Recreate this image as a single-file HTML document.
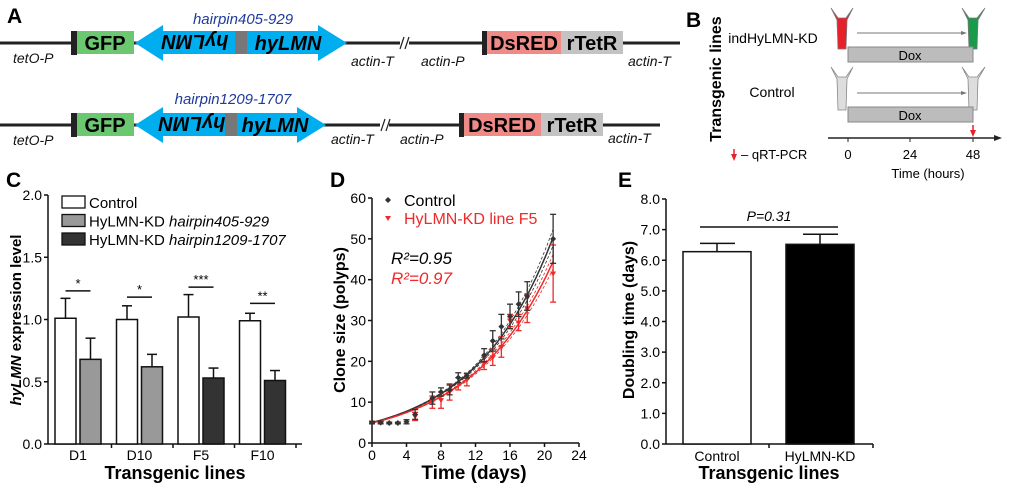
<!DOCTYPE html>
<html><head><meta charset="utf-8"><style>
body{margin:0;background:#fff}
svg{display:block;font-family:"Liberation Sans",Arial,sans-serif}
</style></head><body>
<svg id="fig" width="1020" height="488" viewBox="0 0 1020 488" xmlns="http://www.w3.org/2000/svg">
<g>
<text x="7" y="23" font-size="21" font-weight="bold">A</text>
<g>
<line x1="0" y1="43" x2="400" y2="43" stroke="#222" stroke-width="3"/>
<line x1="409" y1="43" x2="484" y2="43" stroke="#222" stroke-width="3"/>
<line x1="400" y1="49" x2="404" y2="37" stroke="#222" stroke-width="1.2"/>
<line x1="405" y1="49" x2="409" y2="37" stroke="#222" stroke-width="1.2"/>
<line x1="620" y1="43" x2="680" y2="43" stroke="#222" stroke-width="3"/>
<rect x="71" y="31" width="6" height="24" fill="#222"/>
<rect x="77" y="31" width="57" height="23" fill="#6cc870"/>
<text x="105" y="50" font-size="20" font-weight="bold" text-anchor="middle">GFP</text>
<polygon points="135,43 163,25 163,31 318,31 318,25 347,43 318,61 318,54 163,54 163,61" fill="#00aeef"/>
<rect x="235" y="31" width="12" height="23" fill="#777"/>
<text x="195" y="50" font-size="20" font-weight="bold" font-style="italic" text-anchor="middle" transform="rotate(180 195 42.5)">hyLMN</text>
<text x="288" y="50" font-size="20" font-weight="bold" font-style="italic" text-anchor="middle">hyLMN</text>
<text x="243" y="24" font-size="15" font-style="italic" fill="#1f3a9c" text-anchor="middle">hairpin405-929</text>
<rect x="482" y="31" width="5" height="24" fill="#222"/>
<rect x="487" y="31" width="74" height="23" fill="#ef8a86"/>
<text x="524" y="50" font-size="20" font-weight="bold" text-anchor="middle">DsRED</text>
<rect x="561" y="31" width="62" height="23" fill="#c3c3c3"/>
<text x="592" y="50" font-size="20" font-weight="bold" text-anchor="middle">rTetR</text>
<g font-size="14" font-style="italic" fill="#111">
<text x="13" y="63">tetO-P</text>
<text x="351" y="66">actin-T</text>
<text x="421" y="66">actin-P</text>
<text x="628" y="66">actin-T</text>
</g>
</g>
<g>
<line x1="0" y1="125" x2="380" y2="125" stroke="#222" stroke-width="3"/>
<line x1="389" y1="125" x2="460" y2="125" stroke="#222" stroke-width="3"/>
<line x1="381" y1="131" x2="385" y2="119" stroke="#222" stroke-width="1.2"/>
<line x1="386" y1="131" x2="390" y2="119" stroke="#222" stroke-width="1.2"/>
<line x1="600" y1="125" x2="660" y2="125" stroke="#222" stroke-width="3"/>
<rect x="71" y="113" width="6" height="24" fill="#222"/>
<rect x="77" y="113" width="57" height="23" fill="#6cc870"/>
<text x="105" y="132" font-size="20" font-weight="bold" text-anchor="middle">GFP</text>
<polygon points="135,125 163,107 163,113 297,113 297,107 326,125 297,143 297,136 163,136 163,143" fill="#00aeef"/>
<rect x="225" y="113" width="12" height="23" fill="#777"/>
<text x="192" y="132" font-size="20" font-weight="bold" font-style="italic" text-anchor="middle" transform="rotate(180 192 124.5)">hyLMN</text>
<text x="275" y="132" font-size="20" font-weight="bold" font-style="italic" text-anchor="middle">hyLMN</text>
<text x="233" y="104" font-size="15" font-style="italic" fill="#1f3a9c" text-anchor="middle">hairpin1209-1707</text>
<rect x="459" y="113" width="5" height="24" fill="#222"/>
<rect x="464" y="113" width="77" height="23" fill="#ef8a86"/>
<text x="502" y="132" font-size="20" font-weight="bold" text-anchor="middle">DsRED</text>
<rect x="541" y="113" width="62" height="23" fill="#c3c3c3"/>
<text x="572" y="132" font-size="20" font-weight="bold" text-anchor="middle">rTetR</text>
<g font-size="14" font-style="italic" fill="#111">
<text x="13" y="145">tetO-P</text>
<text x="331" y="144">actin-T</text>
<text x="400" y="144">actin-P</text>
<text x="608" y="143">actin-T</text>
</g>
</g>
</g>
<g>
<text x="686" y="27" font-size="21" font-weight="bold">B</text>
<text transform="translate(721 79) rotate(-90)" font-size="16" font-weight="bold" text-anchor="middle">Transgenic lines</text>
<text x="773" y="43" font-size="14" text-anchor="middle">indHyLMN-KD</text>
<text x="772" y="97" font-size="14" text-anchor="middle">Control</text>
<g><path d="M831,8 L838,18 L846,18 L853,8 L847,20 L846,49 L838,49 L837,20 Z" fill="#e8202a" stroke="#777" stroke-width="0.8"/></g>
<g><path d="M962,8 L969,18 L977,18 L985,8 L978,20 L977,49 L969,49 L968,20 Z" fill="#1a9b4a" stroke="#777" stroke-width="0.8"/></g>
<g><path d="M831,67 L838,77 L846,77 L853,67 L847,79 L846,110 L838,110 L837,79 Z" fill="#ddd" stroke="#888" stroke-width="0.8"/></g>
<g><path d="M962,67 L969,77 L977,77 L985,67 L978,79 L977,110 L969,110 L968,79 Z" fill="#ddd" stroke="#888" stroke-width="0.8"/></g>
<line x1="857" y1="33" x2="965" y2="33" stroke="#777" stroke-width="1"/><polygon points="967,33 961,31 961,35" fill="#777"/>
<line x1="857" y1="93" x2="965" y2="93" stroke="#777" stroke-width="1"/><polygon points="967,93 961,91 961,95" fill="#777"/>
<rect x="848" y="47" width="125" height="15" fill="#bcbcbc" stroke="#888"/>
<text x="910" y="60" font-size="13" text-anchor="middle">Dox</text>
<rect x="848" y="107" width="125" height="15" fill="#bcbcbc" stroke="#888"/>
<text x="910" y="120" font-size="13" text-anchor="middle">Dox</text>
<line x1="828" y1="138" x2="996" y2="138" stroke="#222" stroke-width="1.5"/><polygon points="1002,138 994,135 994,141" fill="#222"/>
<line x1="848" y1="138" x2="848" y2="142" stroke="#222"/><line x1="910" y1="138" x2="910" y2="142" stroke="#222"/><line x1="973" y1="138" x2="973" y2="142" stroke="#222"/>
<line x1="973" y1="125" x2="973" y2="131" stroke="#e8202a" stroke-width="1.5"/><polygon points="970,130 976,130 973,137" fill="#e8202a"/>
<g font-size="13" text-anchor="middle"><text x="848" y="159">0</text><text x="910" y="159">24</text><text x="973" y="159">48</text></g>
<text x="928" y="178" font-size="13" text-anchor="middle">Time (hours)</text>
<line x1="734" y1="149" x2="734" y2="155" stroke="#e8202a" stroke-width="1.5"/><polygon points="731,154 737,154 734,161" fill="#e8202a"/>
<text x="741" y="159" font-size="13">– qRT-PCR</text>
</g>
<text x="6" y="187" font-size="21" font-weight="bold">C</text>
<text x="330" y="187" font-size="21" font-weight="bold">D</text>
<text x="618" y="187" font-size="21" font-weight="bold">E</text>
<g id="pc"></g>
<g id="pd"></g>
<g id="pe"></g>
</svg>
<script>
// Panel C data
const cCategories = ["D1","D10","F5","F10"];
const cControl = [1.01,1.00,1.02,0.99];
const cControlErr = [0.16,0.11,0.18,0.06];
const cKD = [0.68,0.62,0.53,0.51];
const cKDErr = [0.17,0.10,0.08,0.08];
const cSig = ["*","*","***","**"];
const cSigLevel = [1.23,1.18,1.26,1.13];
const cTicks = [0,0.5,1.0,1.5,2.0];
// Panel D data
const dDaysC = [0,1,2,3,4,5,7,8,9,10,11,13,14,15,16,17,18,21];
const dControl = [5,5,4.9,4.9,5.2,7,11,12.5,13,16,16.5,21.5,25,28.5,31,34,36,50];
const dControlErr = [0.3,0.3,0.2,0.2,0.5,1.2,1.5,1,1.2,1.2,0.6,1.6,2.5,3,3,3,3.5,6];
const dDaysK = [0,1,5,7,8,9,10,11,13,14,15,16,17,18,21];
const dKD = [5,5,6.5,10,10.5,12.5,14.5,15.5,19.5,21,23.5,30,29.5,33,41.5];
const dKDErr = [0.3,0.3,1,1.5,2,2,1.5,1.5,1.5,2,2.5,1.5,2,3.5,7];
const dFitY0 = [5.0,4.9];
const dFitDoubling = [6.3,6.6];
const dXTicks = [0,4,8,12,16,20,24];
const dYTicks = [0,10,20,30,40,50,60];
// Panel E data
const eCategories = ["Control","HyLMN-KD"];
const eValues = [6.28,6.52];
const eErr = [0.27,0.33];
const eYTicks = [0,1,2,3,4,5,6,7,8];
const NS="http://www.w3.org/2000/svg";
function mk(parent,tag,attrs,txt){const e=document.createElementNS(NS,tag);for(const k in attrs)e.setAttribute(k,attrs[k]);if(txt!==undefined)e.textContent=txt;parent.appendChild(e);return e;}

(function(){
const g=document.getElementById('pc');
const y=v=>444-v*124.5;
const X0=48,X1=302,grp=61.5,bw=21;
mk(g,'line',{x1:X0,y1:y(0),x2:X0,y2:y(2),stroke:'#111','stroke-width':1.5});
mk(g,'line',{x1:X0,y1:y(0),x2:X1,y2:y(0),stroke:'#111','stroke-width':1.5});
cTicks.forEach(t=>{mk(g,'line',{x1:X0-4,y1:y(t),x2:X0,y2:y(t),stroke:'#111','stroke-width':1.5});
 const tl=mk(g,'text',{x:X0-6,y:y(t)+5,'font-size':14,'text-anchor':'end'},t.toFixed(1));
 });
mk(g,'text',{transform:`translate(21 320) rotate(-90)`,'font-size':15,'font-weight':'bold','text-anchor':'middle'}).innerHTML='<tspan font-style="italic">hyLMN</tspan> expression level';
mk(g,'text',{x:175,y:479,'font-size':18,'font-weight':'bold','text-anchor':'middle'},'Transgenic lines');
cCategories.forEach((c,i)=>{
 const bx=55+i*grp; const kdFill=i<2?'#999':'#333';
 const cx1=bx+bw/2;
 mk(g,'line',{x1:cx1,y1:y(cControl[i]),x2:cx1,y2:y(cControl[i]+cControlErr[i]),stroke:'#111','stroke-width':1.5});
 mk(g,'line',{x1:cx1-5,y1:y(cControl[i]+cControlErr[i]),x2:cx1+5,y2:y(cControl[i]+cControlErr[i]),stroke:'#111','stroke-width':1.5});
 const b1=mk(g,'rect',{x:bx,y:y(cControl[i]),width:bw,height:y(0)-y(cControl[i]),fill:'#fff',stroke:'#111','stroke-width':1.5});
 
 const kx=bx+25;
 const cx2=kx+bw/2;
 mk(g,'line',{x1:cx2,y1:y(cKD[i]),x2:cx2,y2:y(cKD[i]+cKDErr[i]),stroke:'#111','stroke-width':1.5});
 mk(g,'line',{x1:cx2-5,y1:y(cKD[i]+cKDErr[i]),x2:cx2+5,y2:y(cKD[i]+cKDErr[i]),stroke:'#111','stroke-width':1.5});
 const b2=mk(g,'rect',{x:kx,y:y(cKD[i]),width:bw,height:y(0)-y(cKD[i]),fill:kdFill,stroke:'#111','stroke-width':1.5});
 
 mk(g,'line',{x1:cx1,y1:y(cSigLevel[i]),x2:cx2,y2:y(cSigLevel[i]),stroke:'#111','stroke-width':1.5});
 mk(g,'text',{x:(cx1+cx2)/2,y:y(cSigLevel[i])-3,'font-size':13,'text-anchor':'middle'},cSig[i]);
 mk(g,'line',{x1:X0+(i+1)*grp+2,y1:y(0),x2:X0+(i+1)*grp+2,y2:y(0)+4,stroke:'#111','stroke-width':1.5});
 const tl=mk(g,'text',{x:bx+23,y:460,'font-size':14,'text-anchor':'middle'},c);
 
});
const leg=[['Control','#fff',''],['HyLMN-KD ','#999','hairpin405-929'],['HyLMN-KD ','#333','hairpin1209-1707']];
leg.forEach((l,i)=>{const ly=196+i*18.5;
 const le=mk(g,'g',{});
 mk(le,'rect',{x:62,y:ly,width:23,height:12,fill:l[1],stroke:'#111','stroke-width':1.3});
 mk(le,'text',{x:89,y:ly+12,'font-size':15}).innerHTML=l[0]+(l[2]?'<tspan font-style="italic">'+l[2]+'</tspan>':'');});
})();

(function(){
const g=document.getElementById('pd');
const X=v=>372+v*8.625, Y=v=>443-v*(245/60);
mk(g,'line',{x1:372,y1:Y(0),x2:372,y2:Y(60),stroke:'#111','stroke-width':1.5});
mk(g,'line',{x1:372,y1:Y(0),x2:X(24),y2:Y(0),stroke:'#111','stroke-width':1.5});
dYTicks.forEach(t=>{mk(g,'line',{x1:368,y1:Y(t),x2:372,y2:Y(t),stroke:'#111','stroke-width':1.5});
 mk(g,'text',{x:366,y:Y(t)+5,'font-size':14,'text-anchor':'end'},t);});
dXTicks.forEach(t=>{mk(g,'line',{x1:X(t),y1:Y(0),x2:X(t),y2:Y(0)+4,stroke:'#111','stroke-width':1.5});
 mk(g,'text',{x:X(t),y:460,'font-size':14,'text-anchor':'middle'},t);});
mk(g,'text',{transform:'translate(345 320) rotate(-90)','font-size':16,'font-weight':'bold','text-anchor':'middle'},'Clone size (polyps)');
mk(g,'text',{x:474,y:479,'font-size':19,'font-weight':'bold','text-anchor':'middle'},'Time (days)');
const colors=['#333','#ee2a2a'];
[0,1].forEach(s=>{
 const k=Math.log(2)/dFitDoubling[s];
 [[1,1.5,''],[1.04,0.8,'3,2'],[0.96,0.8,'3,2']].forEach(([f,w,da])=>{
  let d='';for(let t=0;t<=21;t+=0.25){const v=dFitY0[s]*Math.exp(k*t)*(1+(f-1)*t/21);d+=(t?'L':'M')+X(t).toFixed(1)+','+Y(v).toFixed(1);}
  const p=mk(g,'path',{d,fill:'none',stroke:colors[s],'stroke-width':w,'stroke-dasharray':da});
  });
});
function series(days,vals,errs,col,tri,name){
 days.forEach((d,i)=>{const x=X(d);
  mk(g,'line',{x1:x,y1:Y(vals[i]-errs[i]),x2:x,y2:Y(vals[i]+errs[i]),stroke:col,'stroke-width':1.3});
  [vals[i]-errs[i],vals[i]+errs[i]].forEach(v=>mk(g,'line',{x1:x-3,y1:Y(v),x2:x+3,y2:Y(v),stroke:col,'stroke-width':1.3}));
  const y=Y(vals[i]);
  const m=tri?mk(g,'polygon',{points:`${x-3},${y-2} ${x+3},${y-2} ${x},${y+3}`,fill:col}):mk(g,'polygon',{points:`${x},${y-3} ${x+3},${y} ${x},${y+3} ${x-3},${y}`,fill:col});
  });
}
series(dDaysK,dKD,dKDErr,'#ee2a2a',true,'kd-point');
series(dDaysC,dControl,dControlErr,'#333',false,'control-point');
const l1=mk(g,'g',{});
mk(l1,'polygon',{points:'388,197 391,200 388,203 385,200',fill:'#333'});
mk(l1,'text',{x:404,y:206,'font-size':16},'Control');
const l2=mk(g,'g',{});
mk(l2,'polygon',{points:'385,216 391,216 388,221',fill:'#ee2a2a'});
mk(l2,'text',{x:404,y:224,'font-size':16,fill:'#ee2a2a'},'HyLMN-KD line F5');
mk(g,'text',{x:391,y:264,'font-size':17,'font-style':'italic'},'R²=0.95');
mk(g,'text',{x:391,y:284,'font-size':17,'font-style':'italic',fill:'#ee2a2a'},'R²=0.97');
})();

(function(){
const g=document.getElementById('pe');
const Y=v=>444-v*(245/8);
mk(g,'line',{x1:666,y1:Y(0),x2:666,y2:Y(8),stroke:'#111','stroke-width':1.5});
mk(g,'line',{x1:666,y1:Y(0),x2:873,y2:Y(0),stroke:'#111','stroke-width':1.5});
eYTicks.forEach(t=>{mk(g,'line',{x1:662,y1:Y(t),x2:666,y2:Y(t),stroke:'#111','stroke-width':1.5});
 mk(g,'text',{x:660,y:Y(t)+5,'font-size':14,'text-anchor':'end'},t.toFixed(1));});
[769,873].forEach(x=>mk(g,'line',{x1:x,y1:Y(0),x2:x,y2:Y(0)+4,stroke:'#111','stroke-width':1.5}));
mk(g,'text',{transform:'translate(634 320) rotate(-90)','font-size':16,'font-weight':'bold','text-anchor':'middle'},'Doubling time (days)');
mk(g,'text',{x:769,y:479,'font-size':18,'font-weight':'bold','text-anchor':'middle'},'Transgenic lines');
const bx=[683,786],fills=['#fff','#000'];
eCategories.forEach((c,i)=>{
 const cx=bx[i]+34;
 mk(g,'line',{x1:cx,y1:Y(eValues[i]),x2:cx,y2:Y(eValues[i]+eErr[i]),stroke:'#111','stroke-width':1.5});
 mk(g,'line',{x1:cx-17,y1:Y(eValues[i]+eErr[i]),x2:cx+18,y2:Y(eValues[i]+eErr[i]),stroke:'#111','stroke-width':1.5});
 const r=mk(g,'rect',{x:bx[i],y:Y(eValues[i]),width:68,height:Y(0)-Y(eValues[i]),fill:fills[i],stroke:'#111','stroke-width':1.5});
 
 mk(g,'text',{x:cx,y:461,'font-size':14,'text-anchor':'middle'},c);
});
mk(g,'line',{x1:700,y1:227,x2:838,y2:227,stroke:'#111','stroke-width':1.5});
mk(g,'text',{x:769,y:221,'font-size':14,'font-style':'italic','text-anchor':'middle'},'P=0.31');
})();
</script>
</body></html>
